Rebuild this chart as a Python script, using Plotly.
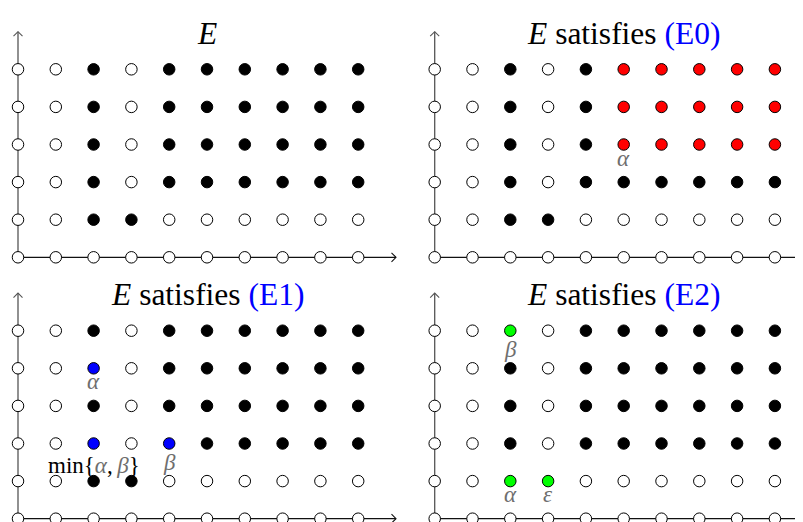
import plotly.graph_objects as go

# ---------------- data ----------------
COLS = list(range(10))          # x positions 0..9
ROWS = list(range(6))           # y positions 0..5
# membership of E, rows listed from top (y=5) to bottom (y=0); '1' = filled
E_GRID = [
    "0010111111",
    "0010111111",
    "0010111111",
    "0010111111",
    "0011000000",
    "0000000000",
]
TITLES = ["", "(E0)", "(E1)", "(E2)"]
HIGHLIGHT = [
    [],
    [(5, 5), (6, 5), (7, 5), (8, 5), (9, 5),
     (5, 4), (6, 4), (7, 4), (8, 4), (9, 4),
     (5, 3), (6, 3), (7, 3), (8, 3), (9, 3)],
    [(2, 4), (2, 2), (4, 2)],
    [(2, 5), (2, 1), (3, 1)],
]
HL_COLORS = [None, "#ff0000", "#0000ff", "#00ff00"]
LABELS = [
    [],
    [(5, 3, "α")],
    [(2, 4, "α"), (2, 2, "min{α, β}"), (4, 2, "β")],
    [(2, 5, "β"), (2, 1, "α"), (3, 1, "ε")],
]
AXIS_X_END = 10
AXIS_Y_END = 6

# ---------------- layout constants ----------------
W, H = 803, 522
BODY = 8.0                      # default page margin around the plot div
SX, SY = 37.8, 37.6
PANELS = [  # x-domain, y-domain, origin pixel in the window (from left, from top)
    ((0.0, 0.5), (0.5, 1.0), 18.0, 257.3),
    ((0.5, 1.0), (0.5, 1.0), 434.7, 257.3),
    ((0.0, 0.5), (0.0, 0.5), 18.0, 518.7),
    ((0.5, 1.0), (0.0, 0.5), 434.7, 518.7),
]
LABEL_SHIFT = {"α": -13.5, "ε": -13.5, "β": -18.5, "min": -22}
SERIF = "Liberation Serif"
GRAY = "#6e6e6e"

fig = go.Figure()
layout = dict(width=W, height=H, margin=dict(l=0, r=0, t=0, b=0),
              paper_bgcolor="white", plot_bgcolor="white", showlegend=False)
annotations = []

for i, (xd, yd, ox, oy) in enumerate(PANELS):
    ox -= BODY
    oy -= BODY
    k = "" if i == 0 else str(i + 1)
    xa, ya = "x" + k, "y" + k
    a_px, b_px = xd[0] * W, xd[1] * W
    top_px, bot_px = (1 - yd[1]) * H, (1 - yd[0]) * H
    layout["xaxis" + k] = dict(domain=list(xd), range=[(a_px - ox) / SX, (b_px - ox) / SX],
                               visible=False, fixedrange=True)
    layout["yaxis" + k] = dict(domain=list(yd), range=[(oy - bot_px) / SY, (oy - top_px) / SY],
                               visible=False, fixedrange=True)

    # axes lines
    fig.add_trace(go.Scatter(x=[0, 0], y=[0, AXIS_Y_END], mode="lines", xaxis=xa, yaxis=ya,
                             line=dict(color="#555555", width=1.3), cliponaxis=False,
                             hoverinfo="skip"))
    fig.add_trace(go.Scatter(x=[0, AXIS_X_END], y=[0, 0], mode="lines", xaxis=xa, yaxis=ya,
                             line=dict(color="#111111", width=1.3), cliponaxis=False,
                             hoverinfo="skip"))
    # arrow heads (open V)
    dxh, dyh = 4.5 / SX, 4.5 / SY
    fig.add_trace(go.Scatter(x=[AXIS_X_END - dxh, AXIS_X_END, AXIS_X_END - dxh],
                             y=[dyh, 0, -dyh], mode="lines", xaxis=xa, yaxis=ya,
                             line=dict(color="#111111", width=1.1), cliponaxis=False,
                             hoverinfo="skip"))
    fig.add_trace(go.Scatter(x=[-4.5 / SX, 0, 4.5 / SX],
                             y=[AXIS_Y_END - 4.5 / SY, AXIS_Y_END, AXIS_Y_END - 4.5 / SY],
                             mode="lines", xaxis=xa, yaxis=ya,
                             line=dict(color="#555555", width=1.1), cliponaxis=False,
                             hoverinfo="skip"))

    hl = set(HIGHLIGHT[i])
    ox_l, oy_l, fx, fy, hx, hy = [], [], [], [], [], []
    for r, row in enumerate(E_GRID):
        yv = ROWS[len(ROWS) - 1 - r]
        for c, ch in enumerate(row):
            xv = COLS[c]
            if (xv, yv) in hl:
                hx.append(xv); hy.append(yv)
            elif ch == "1":
                fx.append(xv); fy.append(yv)
            else:
                ox_l.append(xv); oy_l.append(yv)
    mk = dict(size=11.5, line=dict(color="black", width=1))
    fig.add_trace(go.Scatter(x=ox_l, y=oy_l, mode="markers", xaxis=xa, yaxis=ya,
                             marker=dict(color="white", **mk), cliponaxis=False))
    fig.add_trace(go.Scatter(x=fx, y=fy, mode="markers", xaxis=xa, yaxis=ya,
                             marker=dict(color="black", **mk), cliponaxis=False))
    if hx:
        fig.add_trace(go.Scatter(x=hx, y=hy, mode="markers", xaxis=xa, yaxis=ya,
                                 marker=dict(color=HL_COLORS[i], **mk), cliponaxis=False))

    # title
    if TITLES[i]:
        ttxt = ("<i>E</i> satisfies <span style='color:#0000ff'>" + TITLES[i] + "</span>")
    else:
        ttxt = "<i>E</i>"
    annotations.append(dict(x=5, y=5.95, xref=xa, yref=ya, text=ttxt, showarrow=False,
                            font=dict(family=SERIF, size=31.5, color="black"),
                            xanchor="center", yanchor="middle"))
    # labels
    for (lx, ly, lt) in LABELS[i]:
        if lt.startswith("min"):
            txt = ("min{<span style='color:%s'><i>α</i></span>,\u2009"
                   "<span style='color:%s'><i>β</i></span>}" % (GRAY, GRAY))
            col = "black"
            sh = LABEL_SHIFT["min"]
        else:
            txt = "<i>" + lt + "</i>"
            col = GRAY
            sh = LABEL_SHIFT[lt]
        annotations.append(dict(x=lx, y=ly, xref=xa, yref=ya, text=txt, showarrow=False,
                                font=dict(family=SERIF, size=23, color=col),
                                xanchor="center", yanchor="middle", yshift=sh))

layout["annotations"] = annotations
fig.update_layout(**layout)
fig.write_html("out.html")
